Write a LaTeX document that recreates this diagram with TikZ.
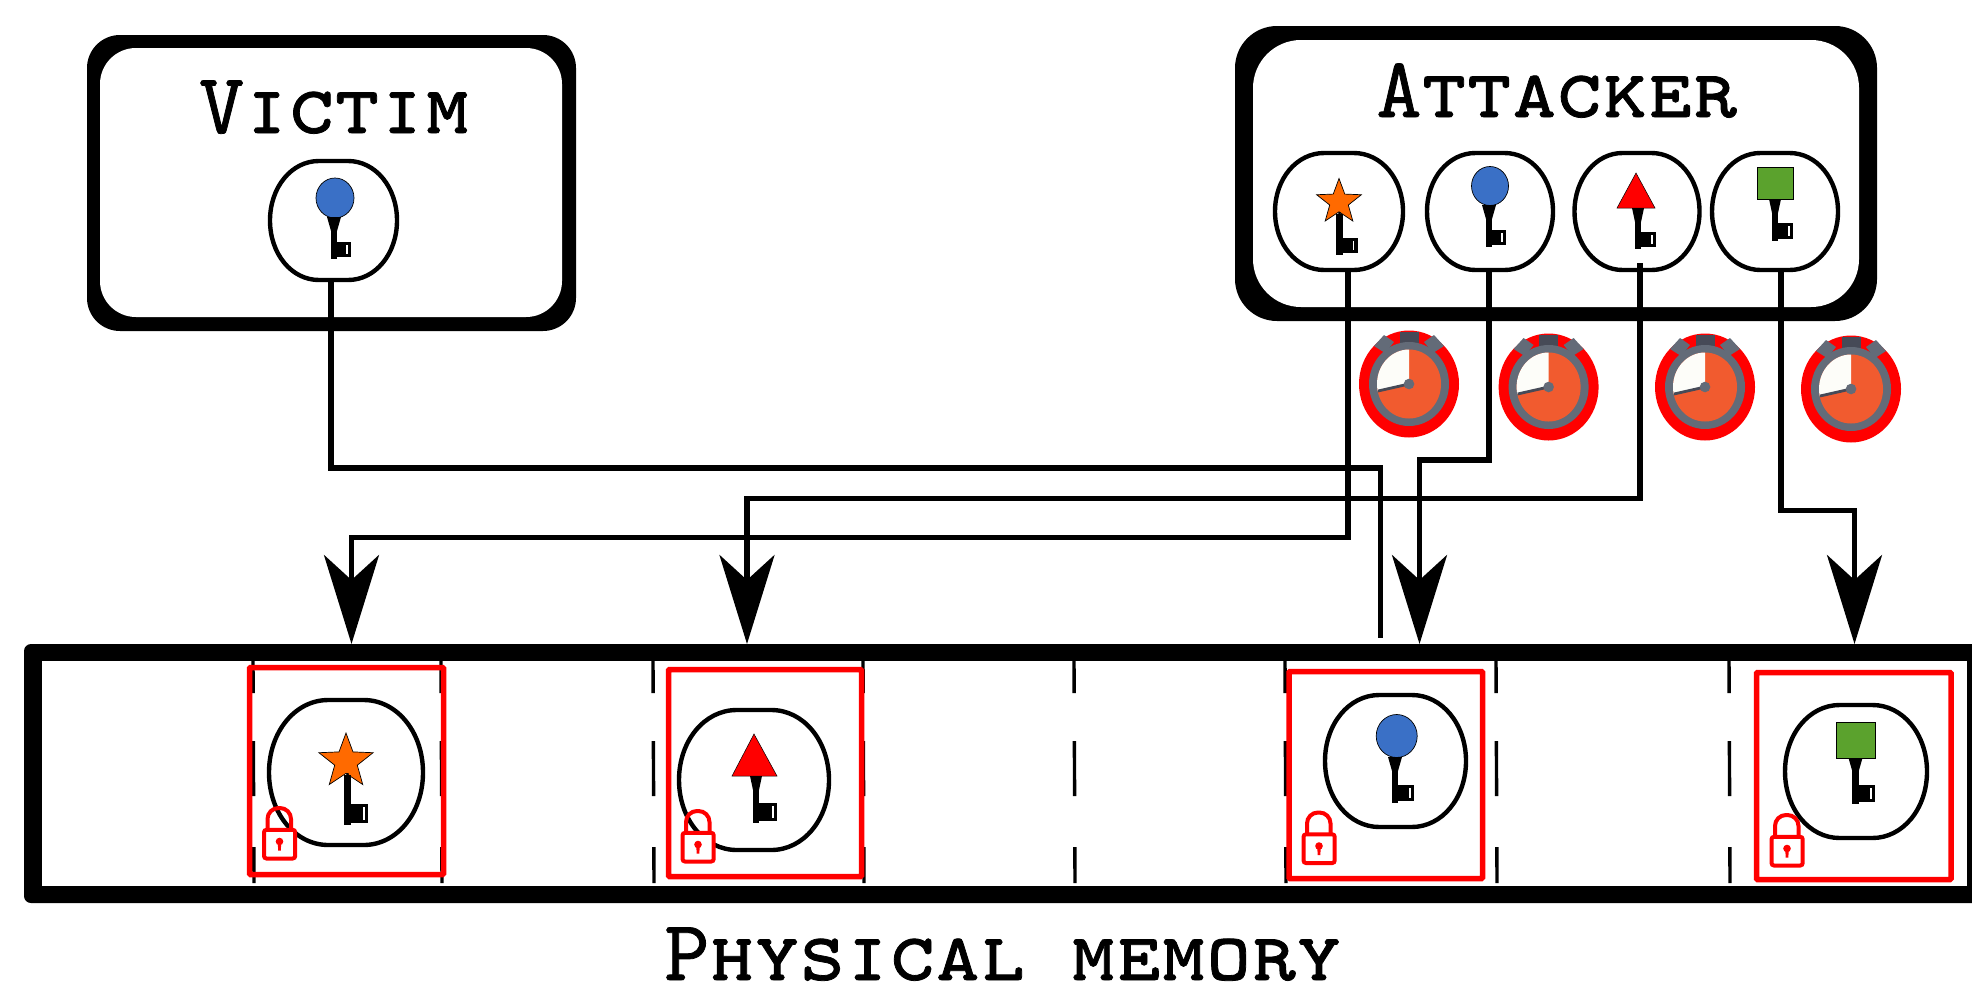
\documentclass[tikz,border=0pt]{standalone}
\usetikzlibrary{arrows.meta,calc,shapes.geometric}
\font\ttcaps="[lmmonocaps10-regular]:embolden=0.9" at 86pt
\definecolor{kblue}{HTML}{3A70C6}
\definecolor{korange}{HTML}{FF6A00}
\definecolor{kgreen}{HTML}{5BA22D}
\definecolor{wring}{HTML}{636B78}
\definecolor{wdark}{HTML}{464A57}
\definecolor{wface}{HTML}{F15B2F}
\definecolor{wpaper}{HTML}{FDFDF9}
\tikzset{
  boxfill/.style={rectangle,inner sep=0pt,outer sep=0pt,fill=#1},
  keyframe/.style={rectangle,inner sep=0pt,outer sep=0pt},
  blobline/.style={draw=black,line width=4.4pt},
  title/.style={inner sep=0pt,outer sep=0pt,anchor=base,font=\ttcaps},
  conn/.style={draw=black,line width=5.2pt},
  bigarrow/.style={-{Stealth[length=89pt,width=55pt,inset=25pt]}},
  redframe/.style={rectangle,draw=red,line width=5.5pt,inner sep=0pt,outer sep=0pt,rounded corners=1pt},
  divider/.style={draw=black,line width=3.4pt,dash pattern=on 32pt off 48pt on 55pt off 51pt on 36pt},
  iconline/.style={draw=black,line width=0.7pt}
}
% name, centre x, centre y, width, height: an egg with a short flat top and bottom
\newcommand{\keyoutline}[5]{%
  \node[keyframe,minimum width=#4pt,minimum height=#5pt] (#1) at (#2,#3) {};
  \pgfmathsetmacro{\fl}{0.115*#4}%
  \pgfmathsetmacro{\ax}{0.5*#4}%
  \pgfmathsetmacro{\ay}{0.5*#5}%
  \pgfmathsetmacro{\cx}{0.56*(\ax-\fl)}%
  \pgfmathsetmacro{\cy}{0.56*\ay}%
  \draw[blobline] (#2-\fl,#3-\ay) -- (#2+\fl,#3-\ay)
    .. controls (#2+\fl+\cx,#3-\ay) and (#2+\ax,#3-\cy) .. (#2+\ax,#3)
    .. controls (#2+\ax,#3+\cy) and (#2+\fl+\cx,#3+\ay) .. (#2+\fl,#3+\ay)
    -- (#2-\fl,#3+\ay)
    .. controls (#2-\fl-\cx,#3+\ay) and (#2-\ax,#3+\cy) .. (#2-\ax,#3)
    .. controls (#2-\ax,#3-\cy) and (#2-\fl-\cx,#3-\ay) .. (#2-\fl,#3-\ay) -- cycle;
}
% x, y top, y bottom, x right of bit, y top of bit, half width of neck
\newcommand{\keyglyph}[6]{%
  \fill (#1-#6,#2) -- (#1+#6,#2) -- (#1+3,#2+14) -- (#1-3,#2+14) -- cycle;
  \fill (#1-3.2,#2+2) rectangle (#1+3.2,#3);
  \fill (#1,#5) rectangle (#4,#3-2);
  \fill[white] (#4-5,#5+3) rectangle (#4-3.3,#3-5);
}
% x, y of the left end of the top of the shackle
\newcommand{\padlock}[2]{%
  \begin{scope}[shift={(#1,#2)}]
    \draw[red,line width=4pt,rounded corners=11pt] (5.5,24) -- (5.5,2) -- (29,2) -- (29,24);
    \draw[red,fill=white,line width=4pt,rounded corners=2.5pt] (2,23.8) rectangle (33.2,52.5);
    \fill[red] (17.5,35.5) circle (3.8);
    \fill[red] (15.7,36) -- (19.3,36) -- (18.8,44.5) -- (16.2,44.5) -- cycle;
  \end{scope}%
}
% hub x, hub y
\newcommand{\stopwatch}[2]{%
  \begin{scope}[shift={(#1,#2)}]
    \fill[red] (0,0) ellipse [x radius=50,y radius=53.5];
    \fill[wdark] (-26,-37) -- (-22,-41) -- (-14,-33) -- (-18,-29) -- cycle;
    \fill[wdark] (26,-37) -- (22,-41) -- (14,-33) -- (18,-29) -- cycle;
    \fill[wring] (-35,-38) -- (-25,-49) -- (-15,-42) -- (-24,-31) -- cycle;
    \fill[wring] (35,-38) -- (25,-49) -- (15,-42) -- (24,-31) -- cycle;
    \fill[wdark] (-9.5,-52) rectangle (9.5,-41);
    \fill[wring] (0,0) ellipse [x radius=40,y radius=42];
    \fill[wface] (0,0) ellipse [x radius=32,y radius=34.5];
    \begin{scope}
      \clip (0,0) ellipse [x radius=32,y radius=34.5];
      \fill[wpaper] (0,0) -- (0,-40) -- (-40,-40) -- (-40,9) -- cycle;
    \end{scope}
    \draw[wdark,line width=2.8pt] (0,0) -- (-31,7);
    \fill[wring] (0,0) circle (5.3);
  \end{scope}%
}
\begin{document}
\begin{tikzpicture}[x=1pt,y=-1pt]
\useasboundingbox (0,0) rectangle (1972,988);
\clip (0,0) rectangle (1972,988);

% victim box
\node[boxfill=black,rounded corners=33pt,minimum width=489pt,minimum height=296pt] (vout) at (331.5,183) {};
\node[boxfill=white,rounded corners=36pt,minimum width=462pt,minimum height=269pt] (vin) at (331,182.5) {};
\node[title] (vtitle) at (334.5,133) {Victim};
\keyoutline{vk}{333.5}{220.5}{127}{119}

% attacker box
\node[boxfill=black,rounded corners=42pt,minimum width=642pt,minimum height=295pt] (aout) at (1556,173.5) {};
\node[boxfill=white,rounded corners=48pt,minimum width=606pt,minimum height=267pt] (ain) at (1556,173.5) {};
\node[title] (atitle) at (1557,117) {Attacker};
\keyoutline{k1}{1339}{211.5}{128}{117}
\keyoutline{k2}{1490}{211.5}{126}{117}
\keyoutline{k3}{1637}{211.5}{125}{117}
\keyoutline{k4}{1775}{211.5}{126}{117}

% memory
\node[boxfill=black,rounded corners=7pt,minimum width=1961pt,minimum height=259pt] (mem) at (1004.5,773.5) {};
\fill[white] (42,661) rectangle (1967,886);
\foreach \xx in {253,441,653,863,1074,1285,1496,1729}{
  \draw[divider] (\xx,661) -- (\xx+1,883);
}
\node[title] (mtitle) at (1003,980) {Physical memory};

% memory frames and keys
\node[redframe,minimum width=194pt,minimum height=207pt] (f1) at (346.5,771) {};
\node[redframe,minimum width=193pt,minimum height=207pt] (f2) at (765,773) {};
\node[redframe,minimum width=193.5pt,minimum height=207pt] (f3) at (1385.75,775) {};
\node[redframe,minimum width=194.5pt,minimum height=207pt] (f4) at (1853.75,776) {};
\keyoutline{m1}{346}{772.5}{154}{145}
\keyoutline{m2}{754}{780}{150}{140}
\keyoutline{m3}{1395.5}{761}{141}{132}
\keyoutline{m4}{1856}{771.5}{142}{133}

% key heads and shafts: victim
\node[ellipse,iconline,fill=kblue,inner sep=0pt,minimum width=38pt,minimum height=40pt] (h0) at (335,198) {};
\keyglyph{334}{217}{259}{351}{242}{7}

% attacker keys
\node[star,star points=5,star point ratio=2.4,iconline,fill=korange,inner sep=0pt,minimum size=47pt] (h1) at (1339,202) {};
\keyglyph{1339.5}{212}{255}{1357.5}{238}{1}
\node[ellipse,iconline,fill=kblue,inner sep=0pt,minimum width=37pt,minimum height=39pt] (h2) at (1490,186) {};
\keyglyph{1489}{205}{247}{1506}{230}{7}
\fill[red,draw=black,line width=0.5pt] (1636,173) -- (1655,208) -- (1617,208) -- cycle;
\keyglyph{1638}{208}{249}{1656}{232}{6}
\node[rectangle,iconline,fill=kgreen,inner sep=0pt,minimum width=36pt,minimum height=32pt] (h4) at (1775,183) {};
\keyglyph{1775}{199}{241}{1793}{223}{6}

% memory keys
\node[star,star points=5,star point ratio=2.4,iconline,fill=korange,inner sep=0pt,minimum size=57pt] (h5) at (346,761.5) {};
\keyglyph{347.5}{773}{825}{368}{804}{1}
\fill[red,draw=black,line width=0.5pt] (754,734) -- (777,776) -- (732,776) -- cycle;
\keyglyph{756}{776}{823}{777}{803}{6}
\node[ellipse,iconline,fill=kblue,inner sep=0pt,minimum width=41pt,minimum height=43pt] (h7) at (1396.7,736) {};
\keyglyph{1395}{757}{803}{1414}{785}{7}
\node[rectangle,iconline,fill=kgreen,inner sep=0pt,minimum width=39pt,minimum height=36pt] (h8) at (1855.5,740) {};
\keyglyph{1855.5}{758}{804}{1875}{785}{7}

% locks
\padlock{262}{806}
\padlock{680.5}{809}
\padlock{1301.5}{810.5}
\padlock{1769.5}{813}

% connectors
\draw[conn] ([xshift=-2.5pt]vk.south) -- ++(0,188) -| ([xshift=376pt,yshift=6pt]mem.north);
\draw[conn,bigarrow] ([xshift=9pt]k1.south) -- ++(0,267.5) -| ([xshift=-653pt]mem.north);
\draw[conn,bigarrow] ([xshift=3pt,yshift=7pt]k3.south) -- ++(0,235.5) -| ([xshift=-257.5pt]mem.north);
\draw[conn,bigarrow] ([xshift=-1pt]k2.south) -- ++(0,190) -| ([xshift=415pt]mem.north);
\draw[conn,bigarrow] ([xshift=6pt]k4.south) -- ++(0,240.5) -| ([xshift=850pt]mem.north);

% stopwatches
\stopwatch{1409}{384}
\stopwatch{1548.6}{387}
\stopwatch{1705}{387}
\stopwatch{1851}{389}
\end{tikzpicture}
\end{document}
